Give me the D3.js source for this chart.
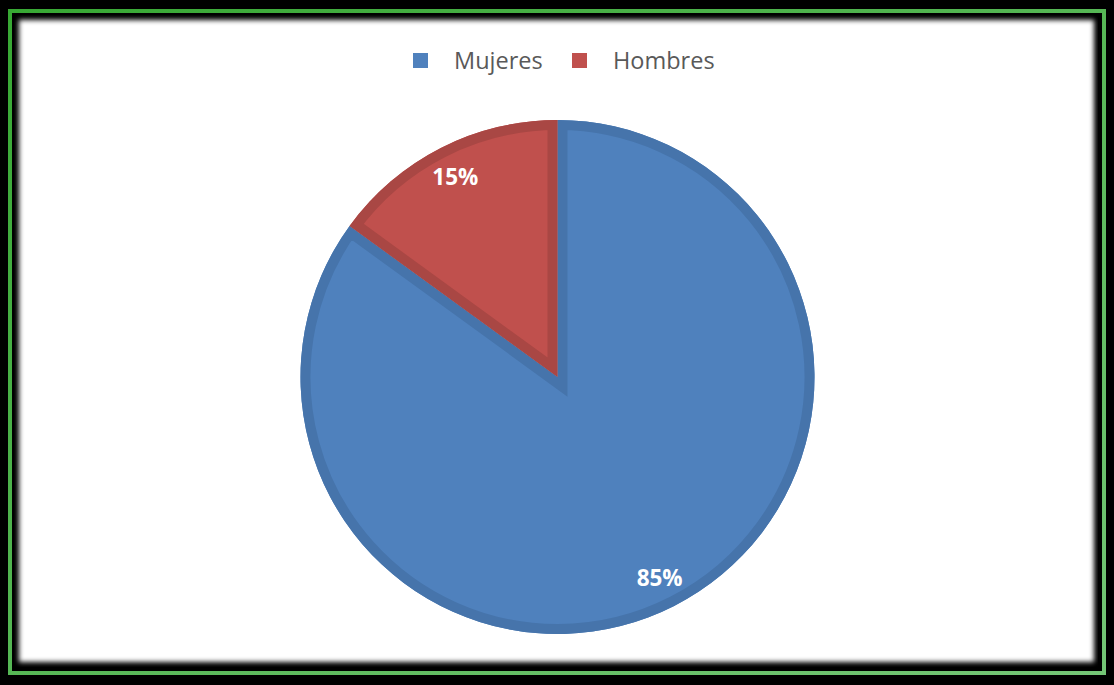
<!DOCTYPE html>
<html>
<head>
<meta charset="utf-8">
<script src="https://cdn.jsdelivr.net/npm/d3@7"></script>
<style>
  html, body { margin: 0; padding: 0; background: #000; }
  svg { display: block; }
</style>
</head>
<body>
<svg id="chart" width="1114" height="685"></svg>
<script>
// Share of participants by sex
const categories = ["Mujeres", "Hombres"];
const shares = [85, 15];
const fillColors = ["#4F81BD", "#C0504D"];
const edgeColors = ["#4674AB", "#A94744"];

const W = 1114, H = 685;
const svg = d3.select("#chart");
const defs = svg.append("defs");

// Frame: black background, green outline and a white card with a soft inner edge
svg.append("rect").attr("width", W).attr("height", H).attr("fill", "#000");

const frameGrad = defs.append("linearGradient")
  .attr("id", "frameGrad").attr("x1", "0").attr("y1", "0").attr("x2", "1").attr("y2", "1");
frameGrad.append("stop").attr("offset", "0").attr("stop-color", "#38a834");
frameGrad.append("stop").attr("offset", "1").attr("stop-color", "#74c676");

svg.append("rect")
  .attr("x", 10).attr("y", 11).attr("width", 1094).attr("height", 662)
  .attr("fill", "none").attr("stroke", "url(#frameGrad)").attr("stroke-width", 4);

const soft = defs.append("filter").attr("id", "soft")
  .attr("x", "-5%").attr("y", "-5%").attr("width", "110%").attr("height", "110%");
soft.append("feGaussianBlur").attr("stdDeviation", 2.6);

defs.append("clipPath").attr("id", "cardClip")
  .append("rect").attr("x", 14).attr("y", 15).attr("width", 1084).attr("height", 652);

svg.append("g").attr("clip-path", "url(#cardClip)")
  .append("rect")
  .attr("x", 19).attr("y", 20).attr("width", 1075).attr("height", 642)
  .attr("fill", "#fff").attr("filter", "url(#soft)");

// Legend
const legendFont = "'Open Sans', 'Liberation Sans', sans-serif";
const legend = svg.append("g").attr("font-family", legendFont);
const legendX = [413, 572];
categories.forEach((c, i) => {
  const g = legend.append("g").attr("transform", `translate(${legendX[i]},53)`);
  g.append("rect").attr("width", 15).attr("height", 15).attr("fill", fillColors[i]);
  g.append("text").attr("x", 41).attr("y", 16)
    .attr("font-size", 23.5).attr("fill", "#595959").text(c);
});

// Pie
const cx = 557.5, cy = 377, r = 257, band = 10;
const pie = d3.pie().sort(null).value(d => d)(shares);
const arc = d3.arc().innerRadius(0).outerRadius(r);
const labelArc = d3.arc().innerRadius(225).outerRadius(225);

const pieG = svg.append("g").attr("transform", `translate(${cx},${cy})`);

pie.forEach((p, i) => {
  const id = "slice" + i;
  defs.append("clipPath").attr("id", id)
    .append("path").attr("d", arc(p)).attr("transform", `translate(${cx},${cy})`);
  pieG.append("path").attr("d", arc(p)).attr("fill", fillColors[i]);
  // darker inner rim, kept inside the slice
  svg.append("g").attr("clip-path", `url(#${id})`)
    .append("path").attr("d", arc(p))
    .attr("transform", `translate(${cx},${cy})`)
    .attr("fill", "none").attr("stroke", edgeColors[i])
    .attr("stroke-width", band * 2).attr("stroke-linejoin", "miter");
});

// Percent labels
pie.forEach((p, i) => {
  const [lx, ly] = labelArc.centroid(p);
  svg.append("text")
    .attr("x", cx + lx).attr("y", cy + ly)
    .attr("text-anchor", "middle").attr("dominant-baseline", "central")
    .attr("font-family", legendFont).attr("font-weight", "bold")
    .attr("font-size", 22.5).attr("fill", "#fff")
    .text(shares[i] + "%");
});
</script>
</body>
</html>
